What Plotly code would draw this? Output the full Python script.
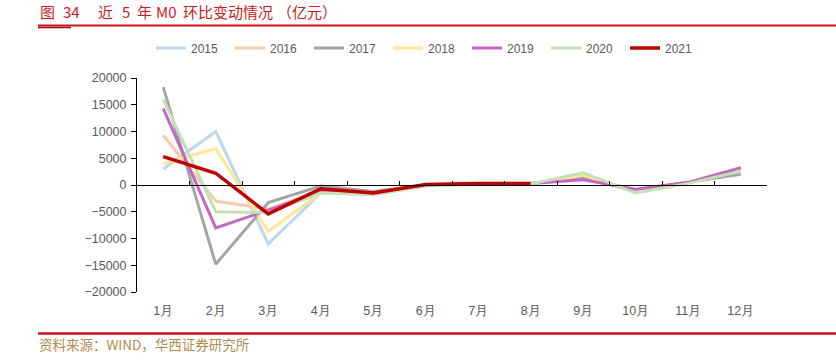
import plotly.graph_objects as go

months = ["1月", "2月", "3月", "4月", "5月", "6月", "7月", "8月", "9月", "10月", "11月", "12月"]
y2015 = [3000, 10000, -11000, -1500, -1500, 0, 300, 300, 1500, -1000, 500, 3000]
y2016 = [9300, -3000, -4500, -1000, -1500, 0, 300, 300, 1500, -1000, 500, 3300]
y2017 = [18300, -14800, -3300, -200, -1200, 0, 200, 300, 1500, -1200, 500, 2000]
y2018 = [4000, 6800, -8700, -1500, -1500, 0, 300, 200, 1800, -1200, 500, 2800]
y2019 = [14300, -8000, -4700, -1200, -1500, 0, 300, 300, 1000, -800, 500, 3200]
y2020 = [16000, -5000, -5200, -1500, -1800, -200, 200, 200, 2300, -1500, 300, 2600]
y2021 = [5300, 2200, -5400, -700, -1500, 100, 300, 300]

series = [
    ("2015", y2015, "#bdd7ee", 3),
    ("2016", y2016, "#f8cbad", 3),
    ("2017", y2017, "#a5a5a5", 3),
    ("2018", y2018, "#ffe699", 3),
    ("2019", y2019, "#c366c3", 3),
    ("2020", y2020, "#c5e0b4", 3),
    ("2021", y2021, "#c00000", 3.5),
]

# title pieces (text, left pixel)
title_parts = [("图", 39), ("34", 62), ("近", 97), ("5", 121), ("年", 136),
               ("M0", 155), ("环比变动情况", 182), ("（亿元）", 276)]
source_text = "资料来源：WIND，华西证券研究所"

L, R, T, B = 137, 767, 78, 292
W, H = R - L, B - T
def px(x): return (x - L) / W
def py(y): return (B - y) / H

xs = list(range(1, 13))
fig = go.Figure()
for name, vals, color, w in series:
    fig.add_trace(go.Scatter(x=xs[:len(vals)], y=vals, name=name, mode="lines",
                             line=dict(color=color, width=w), hoverinfo="skip"))

tickfont = dict(family="Liberation Sans, Arial, sans-serif", size=12.5, color="#595959")
fig.update_layout(
    width=836, height=360,
    margin=dict(l=L, r=836 - R, t=T, b=360 - B, autoexpand=False),
    paper_bgcolor="white", plot_bgcolor="white",
    showlegend=True,
    legend=dict(orientation="h", x=px(151), y=py(48), xanchor="left", yanchor="middle",
                font=dict(family="Liberation Sans, Arial, sans-serif", size=12, color="#595959"),
                entrywidth=34, entrywidthmode="pixels", bgcolor="rgba(0,0,0,0)"),
    xaxis=dict(range=[0.5, 12.5], tickvals=xs, ticktext=months, showline=False,
               showgrid=False, zeroline=False, ticks="", tickfont=tickfont,
               ticklabelstandoff=9, fixedrange=True),
    xaxis2=dict(range=[0.5, 12.5], overlaying="x", anchor="free", position=0.5,
                side="bottom", tickvals=[i + 0.5 for i in range(0, 13)],
                showticklabels=False, ticks="inside", ticklen=4, tickcolor="black",
                showline=True, linecolor="black", linewidth=1, showgrid=False,
                zeroline=False),
    yaxis=dict(range=[-20000, 20000], dtick=5000, showline=True, linecolor="black",
               linewidth=1, ticks="outside", ticklen=5, tickcolor="black",
               showgrid=False, zeroline=False, tickfont=tickfont, tickformat="d",
               ticklabelstandoff=2),
)
# hidden helper trace so xaxis2 is drawn
fig.add_trace(go.Scatter(x=[1], y=[None], xaxis="x2", showlegend=False, hoverinfo="skip"))

# title & footer
for txt, x0 in title_parts:
    fig.add_annotation(text=txt, xref="paper", yref="paper", x=px(x0), y=py(11),
                       xanchor="left", yanchor="middle", showarrow=False, borderpad=0,
                       font=dict(family="Noto Sans CJK SC", size=15, color="#cc1a22"))
fig.add_annotation(text=source_text, xref="paper", yref="paper",
                   x=px(37), y=py(344), xanchor="left", yanchor="middle", showarrow=False,
                   font=dict(family="Noto Sans CJK SC", size=13.5, color="#b08c50"))
fig.add_shape(type="line", xref="paper", yref="paper", x0=px(38), x1=px(836),
              y0=py(25.5), y1=py(25.5), line=dict(color="#d0101a", width=2))
fig.add_shape(type="line", xref="paper", yref="paper", x0=px(38), x1=px(71),
              y0=py(27.5), y1=py(27.5), line=dict(color="#a00010", width=1.5))
fig.add_shape(type="line", xref="paper", yref="paper", x0=px(38), x1=px(836),
              y0=py(333.5), y1=py(333.5), line=dict(color="#c8101a", width=2.5))

fig.write_html("out.html", post_script="document.body.style.margin='0';",
               config={"displayModeBar": False})
